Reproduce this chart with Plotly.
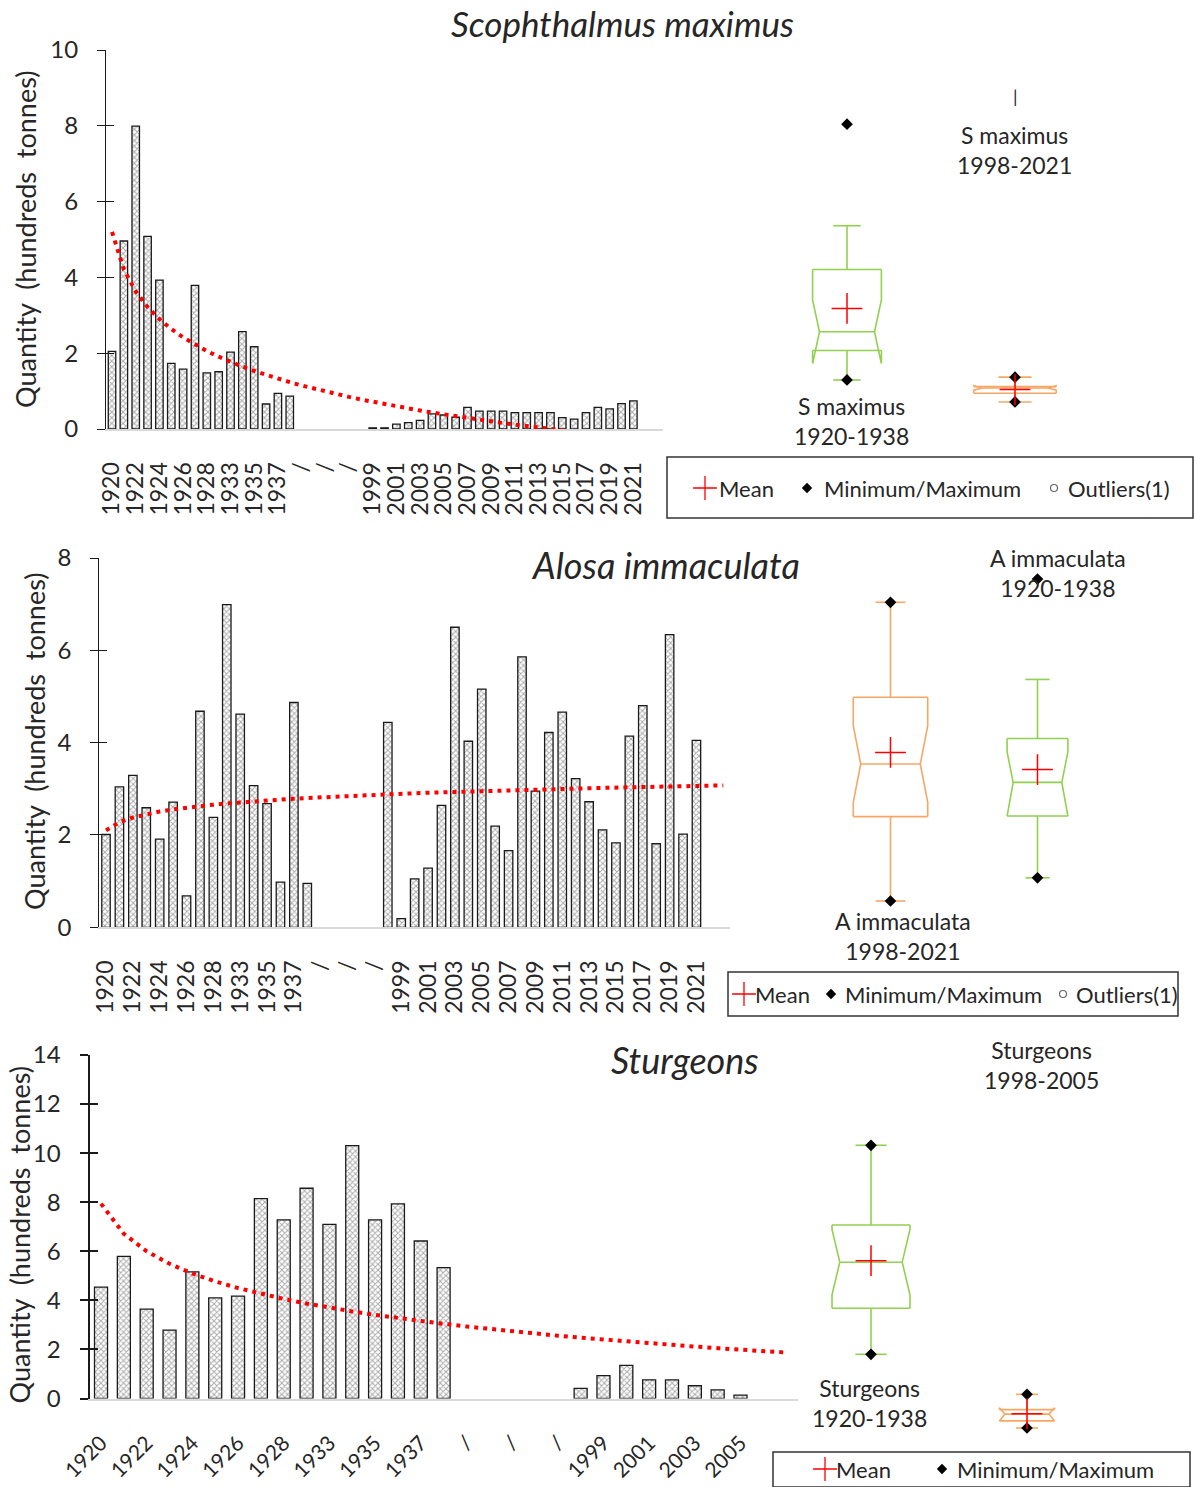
import numpy as np
import plotly.graph_objects as go

W, H = 1195, 1487
FONT = "Lato"
TXT = "#262626"

# ---------------- data ----------------
early_years = ["1920", "1921", "1922", "1923", "1924", "1925", "1926", "1927", "1928",
               "1932", "1933", "1934", "1935", "1936", "1937", "1938"]
gap_labels = ["/", "", "/", "", "/"]
late_years_long = ["1998", "1999", "2000", "2001", "2002", "2003", "2004", "2005", "2006",
                   "2007", "2008", "2009", "2010", "2011", "2012", "2013", "2014", "2015",
                   "2016", "2017", "2018", "2019", "2020", "2021"]
late_years_short = ["1998", "1999", "2000", "2001", "2002", "2003", "2004", "2005"]

smax_early = [2.05, 4.96, 7.99, 5.08, 3.93, 1.73, 1.58, 3.79, 1.48, 1.51, 2.03, 2.57, 2.17, 0.66, 0.94, 0.87]
smax_late = [None, 0.03, 0.03, 0.13, 0.17, 0.23, 0.40, 0.37, 0.31, 0.57, 0.47, 0.47, 0.47, 0.43,
             0.43, 0.43, 0.43, 0.30, 0.26, 0.43, 0.57, 0.53, 0.67, 0.74]

alosa_early = [2.01, 3.04, 3.29, 2.59, 1.91, 2.71, 0.68, 4.68, 2.38, 6.99, 4.62, 3.07, 2.68, 0.98, 4.87, 0.95]
alosa_late = [4.44, 0.19, 1.05, 1.28, 2.64, 6.50, 4.03, 5.16, 2.19, 1.66, 5.86, 2.95, 4.22, 4.66,
              3.22, 2.72, 2.11, 1.83, 4.14, 4.80, 1.81, 6.34, 2.02, 4.05]

stur_early = [4.54, 5.79, 3.64, 2.79, 5.16, 4.10, 4.17, 8.15, 7.28, 8.57, 7.10, 10.31, 7.28, 7.93, 6.42, 5.33]
stur_late = [0.41, 0.93, 1.35, 0.76, 0.76, 0.52, 0.35, 0.14]

# logarithmic trend-line coefficients (y = a + b*ln(k), k = 1..)
smax_trend = (5.2, -1.43)
alosa_trend = (2.1, 0.253)
stur_trend = (7.94, -1.767)

titles = ["Scophthalmus maximus", "Alosa immaculata", "Sturgeons"]
y_title = "Quantity\u00a0\u00a0(hundreds\u00a0\u00a0tonnes)"
legend_words = ["Mean", "Minimum/Maximum", "Outliers(1)"]

# ---------------- helpers ----------------
def px(x):
    return x / W

def py(y):
    return 1 - y / H

fig = go.Figure()
layout = dict(width=W, height=H,
              margin=dict(l=0, r=0, t=0, b=0, pad=0, autoexpand=False),
              paper_bgcolor="white", plot_bgcolor="rgba(0,0,0,0)", showlegend=False,
              font=dict(family=FONT, color=TXT))
annotations = []
shapes = []

panels = [
    dict(early=smax_early, late=smax_late, late_years=late_years_long, trend=smax_trend,
         xpx=(106.1, 663.0), ypx=(50, 429), yr=(0, 10), dtick=2, tickangle=-90,
         xstand=22, ylw=1.3, barw=0.63, xfs=23),
    dict(early=alosa_early, late=alosa_late, late_years=late_years_long, trend=alosa_trend,
         xpx=(99.3, 730.0), ypx=(558, 927.3), yr=(0, 8), dtick=2, tickangle=-90,
         xstand=22, ylw=1.3, barw=0.63, xfs=23),
    dict(early=stur_early, late=stur_late, late_years=late_years_short, trend=stur_trend,
         xpx=(89.6, 797.6), ypx=(1055, 1398.5), yr=(0, 14), dtick=2, tickangle=-45,
         xstand=22, ylw=2.2, barw=0.57, xfs=21),
]

for i, p in enumerate(panels):
    k = i + 1
    labels = early_years + gap_labels + p["late_years"]
    values = p["early"] + [None] * len(gap_labels) + p["late"]
    xs = list(range(len(values)))
    n_slots = len(values) + 2
    xa, ya = f"x{k}", f"y{k}"
    fig.add_trace(go.Bar(
        x=xs, y=values, xaxis=xa, yaxis=ya, width=p["barw"],
        marker=dict(color="white", line=dict(color="#1a1a1a", width=1.3),
                    pattern=dict(shape="x", size=4, solidity=0.45, fgcolor="#5a5a5a",
                                 bgcolor="white")),
        hoverinfo="skip"))
    tk = np.arange(1, n_slots + 1)
    a, b = p["trend"]
    fig.add_trace(go.Scatter(
        x=list(range(n_slots)), y=list(a + b * np.log(tk)), xaxis=xa, yaxis=ya,
        mode="lines", line=dict(color="#ff0000", width=4, dash="4px,5px"),
        hoverinfo="skip"))
    # dummy trace for the inner tick half
    fig.add_trace(go.Scatter(x=[None], y=[None], xaxis=xa, yaxis=f"y{k + 6}",
                             mode="markers", hoverinfo="skip"))
    tickvals = xs[::2]
    ticktext = labels[::2]
    xdom = [px(p["xpx"][0]), px(p["xpx"][1])]
    ydom = [py(p["ypx"][1]), py(p["ypx"][0])]
    layout[f"xaxis{k}"] = dict(domain=xdom, anchor=ya, range=[-0.5, n_slots - 0.5],
                               tickmode="array", tickvals=tickvals, ticktext=ticktext,
                               tickangle=p["tickangle"], ticks="", showline=True,
                               linecolor="#d9d9d9", linewidth=2, showgrid=False,
                               zeroline=False, ticklabelstandoff=p["xstand"],
                               automargin=False,
                               tickfont=dict(family=FONT, size=p["xfs"], color=TXT))
    layout[f"yaxis{k}"] = dict(domain=ydom, anchor=xa, range=list(p["yr"]), dtick=p["dtick"],
                               ticks="outside", ticklen=8, tickwidth=p["ylw"],
                               tickcolor="#1a1a1a", showline=True, linecolor="#1a1a1a",
                               linewidth=p["ylw"], showgrid=False, zeroline=False,
                               ticklabelstandoff=14, automargin=False,
                               tickfont=dict(family=FONT, size=24, color=TXT))
    layout[f"yaxis{k + 6}"] = dict(overlaying=ya, anchor=xa, range=list(p["yr"]),
                                   dtick=p["dtick"], ticks="inside", ticklen=8,
                                   tickwidth=p["ylw"], tickcolor="#1a1a1a",
                                   showticklabels=False, showline=False, showgrid=False,
                                   zeroline=False, automargin=False)

# ---------------- box plots ----------------
GREEN = "#92d050"
ORANGE = "#f7a765"

box_panels = [
    dict(zero=403.0, ppu=34.9, ypx=(40, 440), xpx=(680, 1195), k=17.2,
         boxes=[(smax_early, 847, GREEN), (smax_late, 1015, ORANGE)]),
    dict(zero=910.0, ppu=47.34, ypx=(540, 940), xpx=(740, 1195), k=15.2,
         boxes=[(alosa_late, 890.5, ORANGE), (alosa_early, 1037.5, GREEN)]),
    dict(zero=1431.9, ppu=27.8, ypx=(1040, 1445), xpx=(805, 1195), k=19.5,
         boxes=[(stur_early, 871, GREEN), (stur_late, 1027, ORANGE)]),
]

for i, bp in enumerate(box_panels):
    k = i + 4
    xa, ya = f"x{k}", f"y{k}"
    top_px, bot_px = bp["ypx"]
    yr = [(bp["zero"] - bot_px) / bp["ppu"], (bp["zero"] - top_px) / bp["ppu"]]
    layout[f"xaxis{k}"] = dict(domain=[px(bp["xpx"][0]), px(bp["xpx"][1])], anchor=ya,
                               range=list(bp["xpx"]), visible=False, automargin=False)
    layout[f"yaxis{k}"] = dict(domain=[py(bot_px), py(top_px)], anchor=xa, range=yr,
                               visible=False, automargin=False)
    for vals, cx, color in bp["boxes"]:
        v = np.array([x for x in vals if x is not None], dtype=float)
        n = len(v)
        q1, med, q3 = np.percentile(v, [25, 50, 75])
        iqr = q3 - q1
        wlo = v[v >= q1 - 1.5 * iqr].min()
        whi = v[v <= q3 + 1.5 * iqr].max()
        notch = 1.57 * iqr / np.sqrt(n)
        nlo, nhi = med - notch, med + notch
        w = bp["k"] * np.sqrt(n)
        L, R = cx - w / 2, cx + w / 2
        ins, cap = 0.1 * w, 0.2 * w
        bx = [L, R, None, L, R, None,
              L, L, L + ins, L, L, None,
              R, R, R - ins, R, R, None,
              L + ins, R - ins, None,
              cx, cx, None, cx, cx, None,
              cx - cap, cx + cap, None, cx - cap, cx + cap]
        by = [q3, q3, None, q1, q1, None,
              q3, nhi, med, nlo, q1, None,
              q3, nhi, med, nlo, q1, None,
              med, med, None,
              q3, whi, None, q1, wlo, None,
              whi, whi, None, wlo, wlo]
        fig.add_trace(go.Scatter(x=bx, y=by, xaxis=xa, yaxis=ya, mode="lines",
                                 line=dict(color=color, width=1.6), hoverinfo="skip"))
        fig.add_trace(go.Scatter(x=[cx, cx], y=[v.min(), v.max()], xaxis=xa, yaxis=ya,
                                 mode="markers", marker=dict(symbol="diamond", size=9,
                                                             color="black"),
                                 hoverinfo="skip", cliponaxis=False))
        fig.add_trace(go.Scatter(x=[cx], y=[v.mean()], xaxis=xa, yaxis=ya, mode="markers",
                                 marker=dict(symbol="cross-thin", size=22, color="#ff0000",
                                             line=dict(color="#ff0000", width=1.5)),
                                 hoverinfo="skip", cliponaxis=False))

# ---------------- page-pixel axis for legend symbols ----------------
layout["xaxis10"] = dict(domain=[0, 1], anchor="y10", range=[0, W], visible=False)
layout["yaxis10"] = dict(domain=[0, 1], anchor="x10", range=[H, 0], visible=False)

legends = [
    dict(box=(667, 1193, 457, 518), yc=488, plus=705, mean=717, dia=807, mm=822,
         circ=1054, out=1066),
    dict(box=(728, 1178, 972, 1016), yc=994, plus=744, mean=753, dia=831, mm=843,
         circ=1063, out=1074),
    dict(box=(773, 1190, 1452, 1487), yc=1469, plus=825, mean=834, dia=942, mm=955,
         circ=None, out=None),
]
for lg in legends:
    x0, x1, y0, y1 = lg["box"]
    shapes.append(dict(type="rect", xref="paper", yref="paper", x0=px(x0), x1=px(x1),
                       y0=py(y1), y1=py(y0), line=dict(color="#333", width=1.5)))
    yc = lg["yc"]
    fig.add_trace(go.Scatter(x=[lg["plus"]], y=[yc], xaxis="x10", yaxis="y10",
                             mode="markers", cliponaxis=False, hoverinfo="skip",
                             marker=dict(symbol="cross-thin", size=17, color="#ff0000",
                                         line=dict(color="#ff0000", width=1.3))))
    fig.add_trace(go.Scatter(x=[lg["dia"]], y=[yc], xaxis="x10", yaxis="y10",
                             mode="markers", cliponaxis=False, hoverinfo="skip",
                             marker=dict(symbol="diamond", size=8, color="black")))
    words = [(lg["mean"], legend_words[0]), (lg["mm"], legend_words[1])]
    if lg["circ"] is not None:
        fig.add_trace(go.Scatter(x=[lg["circ"]], y=[yc], xaxis="x10", yaxis="y10",
                                 mode="markers", cliponaxis=False, hoverinfo="skip",
                                 marker=dict(symbol="circle-open", size=7, color="#666",
                                             line=dict(color="#666", width=1.2))))
        words.append((lg["out"], legend_words[2]))
    for wx, wt in words:
        annotations.append(dict(text=wt, x=px(wx), y=py(yc), xref="paper", yref="paper",
                                showarrow=False, xanchor="left", yanchor="middle",
                                font=dict(family=FONT, size=22, color=TXT)))

# ---------------- text ----------------
def ann(text, x, y, size, angle=0, **kw):
    d = dict(text=text, x=px(x), y=py(y), xref="paper", yref="paper", showarrow=False,
             xanchor="center", yanchor="middle", textangle=angle,
             font=dict(family=FONT, size=size, color=TXT))
    d.update(kw)
    annotations.append(d)

ann(f"<i>{titles[0]}</i>", 623, 0, 35, yanchor="top")
ann(f"<i>{titles[1]}</i>", 665, 565, 36)
ann(f"<i>{titles[2]}</i>", 685, 1060, 36)

ann(y_title, 25, 240, 27, angle=-90)
ann(y_title, 34, 742, 27, angle=-90)
ann(y_title, 0, 1235, 27, angle=-90, xanchor="left")

ann("S maximus<br>1920-1938", 851, 421, 23)
ann("S maximus<br>1998-2021", 1014, 150, 23)
ann("|", 1015, 96, 18)
ann("A immaculata<br>1998-2021", 903, 936, 23)
ann("A immaculata<br>1920-1938", 1058, 573, 23)
ann("Sturgeons<br>1920-1938", 869, 1403, 23)
ann("Sturgeons<br>1998-2005", 1041, 1065, 23)

layout["annotations"] = annotations
layout["shapes"] = shapes
fig.update_layout(**layout)
fig.write_html("out.html",
               config={"displayModeBar": False},
               post_script="document.body.style.margin='0';"
                           "document.body.style.padding='0';")
